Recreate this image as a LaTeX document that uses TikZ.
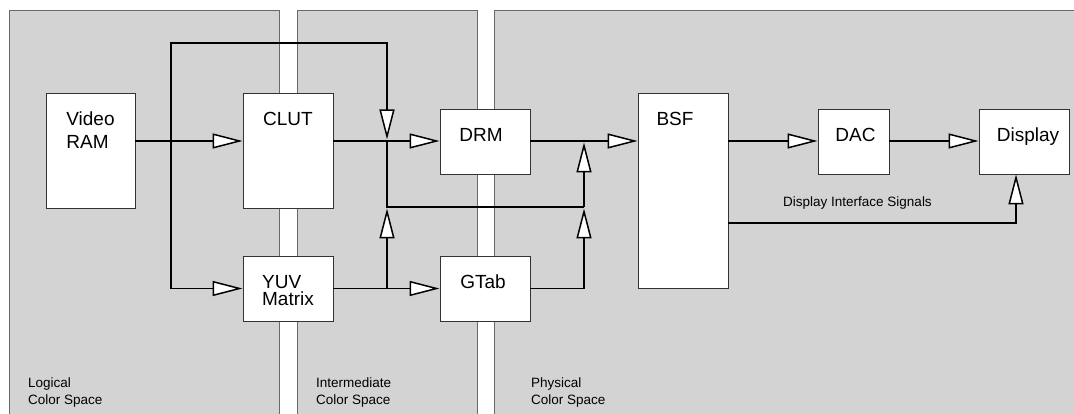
\documentclass[tikz,border=0pt]{standalone}
\usepackage{fontspec}
\setmainfont{Liberation Sans}
\usetikzlibrary{arrows.meta}
\definecolor{panelgray}{RGB}{211,211,211}
\definecolor{edgegray}{RGB}{105,105,105}

\begin{document}
\begin{tikzpicture}[x=1pt,y=-1pt,
  blk/.style={rectangle,draw=black!80,line width=0.9pt,fill=white,inner sep=0pt},
  txt/.style={inner sep=0pt,anchor=base,align=left,font=\fontsize{19}{23}\selectfont},
  small/.style={inner sep=0pt,anchor=base west,align=left,font=\fontsize{13.5}{17}\selectfont},
  panel/.style={draw=edgegray,line width=0.9pt},
  link/.style={line width=1.5pt},
  arrow/.style={link,-{Triangle[length=30pt,width=15pt,fill=white]}},
]
  \useasboundingbox (0,0) rectangle (1074,414);
  \clip (0,0) rectangle (1074,414);

  \fill[panelgray] (9.5,10.5) rectangle (279,420);
  \fill[panelgray] (297,10.5) rectangle (477,420);
  \fill[panelgray] (494,10.5) rectangle (1080,420);
  \draw[panel] (9.5,420) |- (279,10.5) -- (279,420);
  \draw[panel] (297,420) |- (477,10.5) -- (477,420);
  \draw[panel] (494,420) |- (1080,10.5);

  \node[small] (lgc) at (28,404)  {Logical\\Color Space};
  \node[small] (imd) at (316,404) {Intermediate\\Color Space};
  \node[small] (phy) at (531,404) {Physical\\Color Space};

  \node[blk,minimum width=89pt,minimum height=115pt] (ram)  at (90.5,150.5)  {};
  \node[blk,minimum width=90pt,minimum height=115pt] (clut) at (288,150.5)   {};
  \node[blk,minimum width=90pt,minimum height=65pt]  (yuv)  at (288,288.5)   {};
  \node[blk,minimum width=90pt,minimum height=65pt]  (drm)  at (485,141.5)   {};
  \node[blk,minimum width=90pt,minimum height=65pt]  (gtab) at (485,288.5)   {};
  \node[blk,minimum width=90pt,minimum height=195pt] (bsf)  at (683,190.5)   {};
  \node[blk,minimum width=71pt,minimum height=65pt]  (dac)  at (853.5,141.5) {};
  \node[blk,minimum width=90pt,minimum height=65pt]  (disp) at (1024,141.5)  {};

  \node[txt] (ram-t)  at ([yshift=-56pt]ram.north)  {Video\\RAM};
  \node[txt] (clut-t) at ([yshift=-33pt]clut.north) {CLUT};
  \node[txt] (yuv-t)  at ([yshift=-50pt]yuv.north)  {YUV\\[-6pt]Matrix};
  \node[txt] (drm-t)  at ([xshift=-4pt,yshift=-33pt]drm.north)  {DRM};
  \node[txt] (gtab-t) at ([xshift=-2pt,yshift=-33pt]gtab.north) {GTab};
  \node[txt] (bsf-t)  at ([xshift=-8pt,yshift=-33pt]bsf.north)  {BSF};
  \node[txt] (dac-t)  at ([xshift=2pt,yshift=-33pt]dac.north)   {DAC};
  \node[txt] (disp-t) at ([xshift=4pt,yshift=-33pt]disp.north)  {Display};

  \node[small] (sig-t) at (783,207) {Display Interface Signals};

  \coordinate (tap)   at (171,141);
  \coordinate (loopl) at (171,43);
  \coordinate (loopr) at (387,43);
  \coordinate (mix)   at (387,141);
  \coordinate (barl)  at (387,207);
  \coordinate (barr)  at (584,207);
  \coordinate (sum)   at (584,141);
  \coordinate (sigr)  at (1016,223);

  \draw[arrow] (ram.east |- tap) -- (clut.west |- tap);
  \draw[arrow] (tap) -- (loopl) -- (loopr) -- ([yshift=1.5pt]mix);
  \draw[arrow] (tap) |- (yuv.west);
  \draw[arrow] (clut.east |- mix) -- (drm.west |- mix);
  \draw[arrow] (yuv.east) -- (gtab.west);
  \draw[arrow] (mix |- yuv.east) -- ([yshift=-1.5pt]barl);
  \draw[link]  (mix) -- (barl) -- (barr);
  \draw[arrow] (gtab.east) -| ([yshift=-1.5pt]barr);
  \draw[arrow] (barr) -- ([yshift=-1.5pt]sum);
  \draw[arrow] (drm.east |- mix) -- (bsf.west |- mix);
  \draw[arrow] (bsf.east |- mix) -- (dac.west |- mix);
  \draw[arrow] (dac.east |- mix) -- (disp.west |- mix);
  \draw[arrow] (bsf.east |- sigr) -- (sigr) -- (sigr |- disp.south);
\end{tikzpicture}
\end{document}
